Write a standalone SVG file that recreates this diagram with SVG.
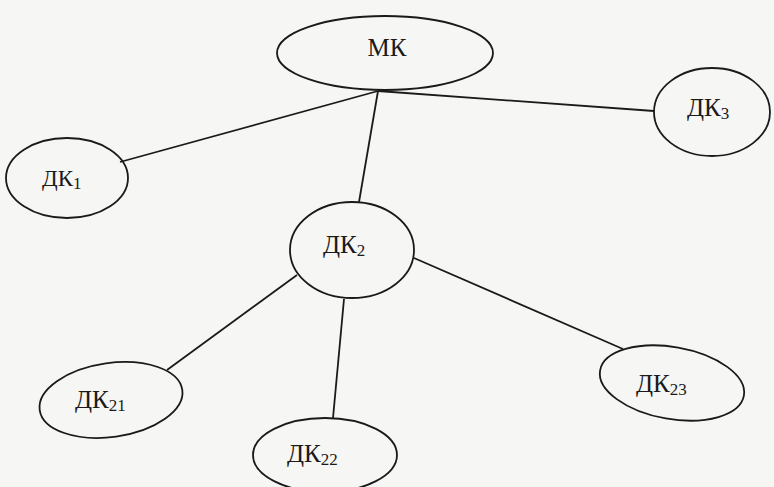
<svg xmlns="http://www.w3.org/2000/svg" width="774" height="487" viewBox="0 0 774 487">
<style>
.n{fill:none;stroke:#1a1a1a;stroke-width:1.8}
.c{fill:none;stroke:#1a1a1a;stroke-width:1.8}
.t{font-family:"Liberation Serif","Times New Roman",serif;font-size:25px;fill:#1a1a1a}
.s{font-size:17px}
</style>
<rect width="774" height="487" fill="#f6f6f4"/>
<g id="connectors">
<line class="c" x1="378" y1="91" x2="120" y2="162"/>
<line class="c" x1="378" y1="91" x2="654" y2="111"/>
<line class="c" x1="378" y1="91" x2="359" y2="202"/>
<line class="c" x1="297" y1="275" x2="167" y2="370"/>
<line class="c" x1="344" y1="299" x2="333" y2="418"/>
<line class="c" x1="414" y1="258" x2="623" y2="349"/>
</g>
<g id="MK">
<ellipse class="n" cx="385" cy="53" rx="108" ry="37"/>
<text class="t" x="387" y="56" text-anchor="middle">МК</text>
</g>
<g id="DK1">
<ellipse class="n" cx="67" cy="178" rx="61" ry="40"/>
<text class="t" x="42" y="186" style="font-size:23px">ДК<tspan class="s" dy="3">1</tspan></text>
</g>
<g id="DK3">
<ellipse class="n" cx="712" cy="112" rx="58" ry="44"/>
<text class="t" x="687" y="116">ДК<tspan class="s" dy="3">3</tspan></text>
</g>
<g id="DK2">
<ellipse class="n" cx="352" cy="250" rx="62" ry="48"/>
<text class="t" x="323" y="253">ДК<tspan class="s" dy="3">2</tspan></text>
</g>
<g id="DK21">
<ellipse class="n" cx="111" cy="400" rx="72" ry="37" transform="rotate(-8 111 400)"/>
<text class="t" x="75" y="408">ДК<tspan class="s" dy="3">21</tspan></text>
</g>
<g id="DK22">
<ellipse class="n" cx="325" cy="455" rx="72" ry="37"/>
<text class="t" x="287" y="462">ДК<tspan class="s" dy="3">22</tspan></text>
</g>
<g id="DK23">
<ellipse class="n" cx="672" cy="383" rx="73" ry="36" transform="rotate(10 672 383)"/>
<text class="t" x="636" y="392">ДК<tspan class="s" dy="3">23</tspan></text>
</g>
</svg>
